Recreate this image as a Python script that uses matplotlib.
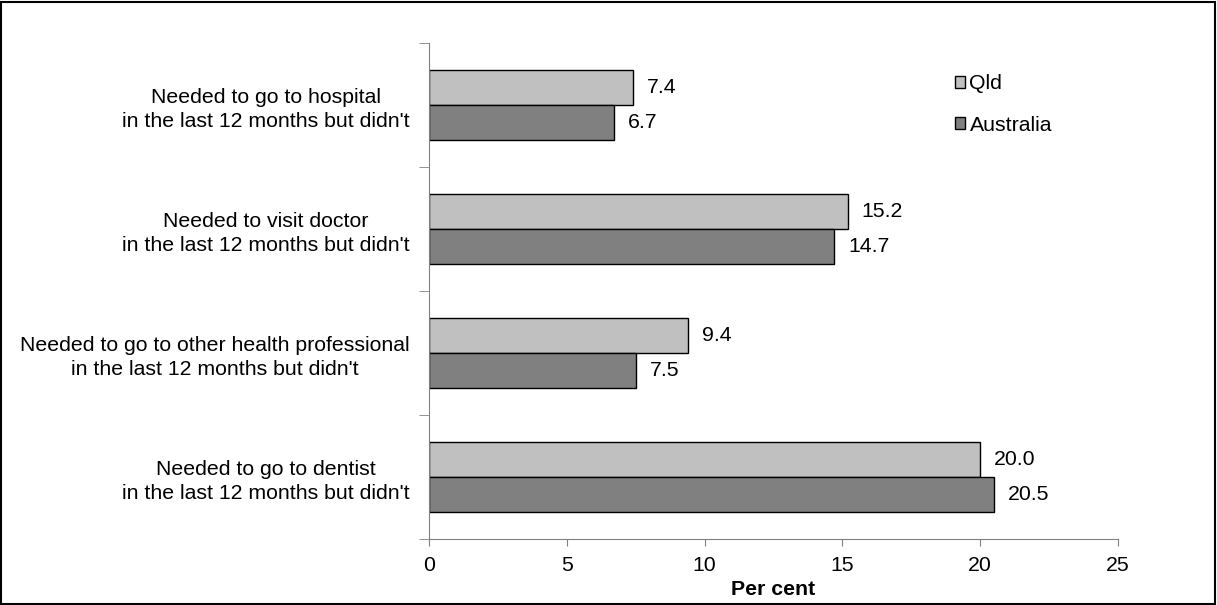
import matplotlib.pyplot as plt
import numpy as np

plt.rcParams['font.family'] = ['Liberation Sans', 'DejaVu Sans']

categories = ["Needed to go to hospital\nin the last 12 months but didn't",
              "Needed to visit doctor\nin the last 12 months but didn't",
              "Needed to go to other health professional\nin the last 12 months but didn't",
              "Needed to go to dentist\nin the last 12 months but didn't"]
qld = [7.4, 15.2, 9.4, 20.0]
australia = [6.7, 14.7, 7.5, 20.5]

fs = 15.3

fig = plt.figure(figsize=(12.17, 6.05), dpi=100)
ax = fig.add_axes([0.3525, 0.1090, 0.5662, 0.8200])

# border round the whole figure
fig.patches.append(plt.Rectangle((0.001, 0.002), 0.997, 0.995, transform=fig.transFigure,
                                 fill=False, edgecolor='black', linewidth=1.5))

y = np.arange(len(categories))[::-1].astype(float)
h = 0.28
b1 = ax.barh(y + h / 2, qld, height=h, color='#c0c0c0', edgecolor='black', linewidth=1, label='Qld')
b2 = ax.barh(y - h / 2, australia, height=h, color='#808080', edgecolor='black', linewidth=1, label='Australia')

for bars, vals in [(b1, qld), (b2, australia)]:
    for bar, v in zip(bars, vals):
        ax.annotate("%.1f" % v, (v, bar.get_y() + bar.get_height() / 2), xytext=(10, 0),
                    textcoords='offset points', va='center', ha='left', fontsize=fs)

ax.set_xlim(0, 25)
ax.set_ylim(-0.5, 3.5)
ax.set_xticks([0, 5, 10, 15, 20, 25])
ax.tick_params(axis='x', length=5, color='#808080', labelsize=fs, pad=7)

ax.set_yticks(y)
ax.set_yticklabels(categories, fontsize=fs, ha='right', multialignment='center', linespacing=1.32)
ax.tick_params(axis='y', which='major', length=0, pad=14)
ax.set_yticks([-0.5, 0.5, 1.5, 2.5, 3.5], minor=True)
ax.tick_params(axis='y', which='minor', length=7, color='#808080')

ax.set_xlabel('Per cent', fontsize=fs, fontweight='bold', labelpad=4)

for s in ['top', 'right']:
    ax.spines[s].set_visible(False)
ax.spines['left'].set_color('#808080')
ax.spines['bottom'].set_color('#808080')

ax.legend(loc='upper left', bbox_to_anchor=(0.735, 0.975), frameon=False, fontsize=fs,
          handlelength=0.5, handleheight=0.5, handletextpad=0.2, labelspacing=1.05)

fig.savefig('out.png', dpi=100)
